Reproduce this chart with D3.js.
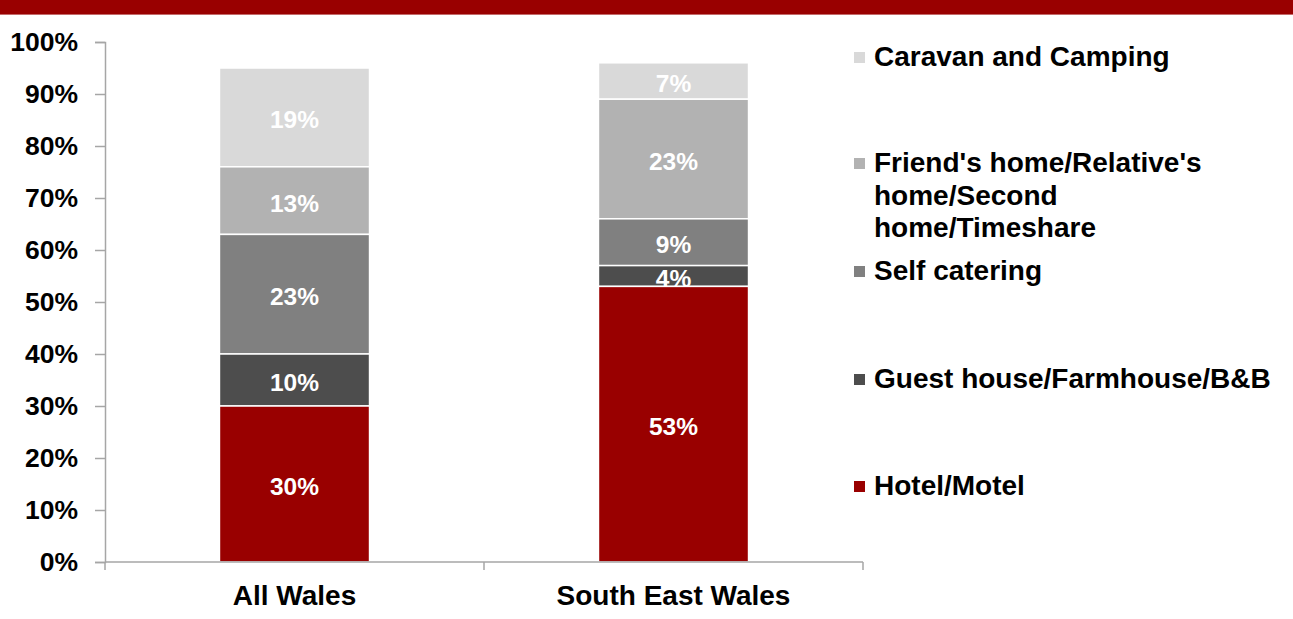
<!DOCTYPE html>
<html>
<head>
<meta charset="utf-8">
<script src="https://cdn.jsdelivr.net/npm/d3@7"></script>
<style>
  html, body { margin: 0; padding: 0; background: #fff; }
  svg { display: block; font-family: "Liberation Sans", Arial, sans-serif; }
</style>
</head>
<body>
<svg id="chart" width="1293" height="619"></svg>
<script>
// Accommodation type shares (%) by region
const categories = ["All Wales", "South East Wales"];
const seriesNames = [
  "Hotel/Motel",
  "Guest house/Farmhouse/B&B",
  "Self catering",
  "Friend's home/Relative's home/Second home/Timeshare",
  "Caravan and Camping"
];
const hotelMotel    = [30, 53];
const guestHouse    = [10, 4];
const selfCatering  = [23, 9];
const friendsHome   = [13, 23];
const caravanCamp   = [19, 7];
const seriesColors  = ["#990000", "#4d4d4d", "#808080", "#b2b2b2", "#d9d9d9"];
const yTicks = [0, 10, 20, 30, 40, 50, 60, 70, 80, 90, 100];

// legend entries as wrapped lines, top entry first
const legendLines = [
  ["Caravan and Camping"],
  ["Friend's home/Relative's", "home/Second", "home/Timeshare"],
  ["Self catering"],
  ["Guest house/Farmhouse/B&B"],
  ["Hotel/Motel"]
];

const svg = d3.select("#chart");

// header band
svg.append("rect").attr("x", 0).attr("y", 0).attr("width", 1293).attr("height", 14).attr("fill", "#990000");
svg.append("rect").attr("x", 0).attr("y", 14).attr("width", 1293).attr("height", 1).attr("fill", "#c46a6a");
svg.append("text").attr("x", 326).attr("y", -8).attr("fill", "#fff")
  .attr("font-size", 26).attr("font-weight", "bold").text("y");

const plot = { left: 105, right: 863, top: 42, bottom: 562 };

const x = d3.scaleBand().domain(categories).range([plot.left, plot.right]).paddingInner(0).paddingOuter(0);
const y = d3.scaleLinear().domain([0, 100]).range([plot.bottom, plot.top]);
const barW = x.bandwidth() * 0.396;

const rows = categories.map((c, i) => ({
  category: c,
  s0: hotelMotel[i], s1: guestHouse[i], s2: selfCatering[i], s3: friendsHome[i], s4: caravanCamp[i]
}));
const stack = d3.stack().keys(["s0", "s1", "s2", "s3", "s4"]);
const layers = stack(rows);

const g = svg.append("g");

// draw from the top series down so lower segments sit over labels above them
layers.slice().reverse().forEach((layer) => {
  const li = layer.index;
  layer.forEach((d) => {
    const cx = x(d.data.category) + x.bandwidth() / 2;
    const y0 = y(d[0]), y1 = y(d[1]);
    g.append("rect")
      .attr("x", cx - barW / 2).attr("y", y1)
      .attr("width", barW).attr("height", y0 - y1)
      .attr("fill", seriesColors[li])
      .attr("stroke", "#fff").attr("stroke-width", 1.5);
    g.append("text")
      .attr("x", cx).attr("y", (y0 + y1) / 2 + 11)
      .attr("text-anchor", "middle")
      .attr("font-size", 24.5).attr("font-weight", "bold").attr("fill", "#fff")
      .text((d[1] - d[0]) + "%");
  });
});

// y axis
const axisColor = "#a6a6a6";
const yAxis = svg.append("g").attr("transform", `translate(${plot.left},0)`)
  .call(d3.axisLeft(y).tickValues(yTicks).tickSize(10).tickPadding(17).tickFormat(d => d + "%"));
yAxis.select(".domain").attr("stroke", axisColor).attr("stroke-width", 1.5);
yAxis.selectAll(".tick line").attr("stroke", axisColor).attr("stroke-width", 1.5);
yAxis.selectAll(".tick text").attr("font-size", 26.5).attr("font-weight", "bold").attr("fill", "#000")
  .attr("font-family", "Liberation Sans, Arial, sans-serif");

// x axis
const xAxis = svg.append("g").attr("transform", `translate(0,${plot.bottom})`);
xAxis.append("line").attr("x1", plot.left).attr("x2", plot.right).attr("stroke", axisColor).attr("stroke-width", 1.5);
const bounds = [plot.left, ...categories.map(c => x(c) + x.bandwidth())];
bounds.forEach(bx => {
  xAxis.append("line").attr("x1", bx).attr("x2", bx).attr("y1", 0).attr("y2", 8)
    .attr("stroke", axisColor).attr("stroke-width", 1.5);
});
categories.forEach(c => {
  xAxis.append("text").attr("x", x(c) + x.bandwidth() / 2).attr("y", 43)
    .attr("text-anchor", "middle").attr("font-size", 28).attr("font-weight", "bold").attr("fill", "#000")
    .text(c);
});

// legend, top entry first
const legendOrder = [4, 3, 2, 1, 0];
const legendY = [57, 163, 271, 379, 486];
const legend = svg.append("g");
legendOrder.forEach((si, k) => {
  const ly = legendY[k];
  legend.append("rect").attr("x", 854).attr("y", ly - 5).attr("width", 11).attr("height", 11)
    .attr("fill", seriesColors[si]);
  legendLines[k].forEach((line, j) => {
    legend.append("text").attr("x", 874).attr("y", ly + 9 + j * 32.5)
      .attr("font-size", 28).attr("font-weight", "bold").attr("fill", "#000")
      .text(line);
  });
});
</script>
</body>
</html>
